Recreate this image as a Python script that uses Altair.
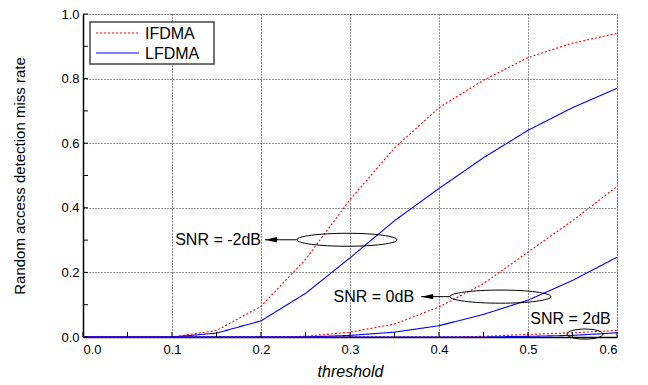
import altair as alt
import pandas as pd

# ---------------- data ----------------
thresholds = [0.0, 0.05, 0.1, 0.15, 0.2, 0.25, 0.3, 0.35, 0.4, 0.45, 0.5, 0.55, 0.6]
ifdma_m2 = [0, 0, 0, 0.02, 0.095, 0.24, 0.425, 0.585, 0.71, 0.795, 0.865, 0.91, 0.94]
lfdma_m2 = [0, 0, 0, 0.012, 0.05, 0.135, 0.245, 0.36, 0.46, 0.555, 0.64, 0.71, 0.77]
ifdma_0 = [0, 0, 0, 0, 0, 0.002, 0.015, 0.04, 0.093, 0.165, 0.263, 0.36, 0.466]
lfdma_0 = [0, 0, 0, 0, 0, 0, 0.005, 0.015, 0.035, 0.07, 0.114, 0.175, 0.247]
ifdma_2 = [0, 0, 0, 0, 0, 0, 0, 0, 0, 0.002, 0.008, 0.013, 0.02]
lfdma_2 = [0, 0, 0, 0, 0, 0, 0, 0, 0, 0, 0.002, 0.005, 0.013]

x_ticks = [0.0, 0.1, 0.2, 0.3, 0.4, 0.5, 0.6]
x_minor = [0.0, 0.05, 0.1, 0.15, 0.2, 0.25, 0.3, 0.35, 0.4, 0.45, 0.5, 0.55, 0.6]
y_ticks = [0.0, 0.2, 0.4, 0.6, 0.8, 1.0]
y_minor = [0.0, 0.1, 0.2, 0.3, 0.4, 0.5, 0.6, 0.7, 0.8, 0.9, 1.0]

schemes = ["IFDMA", "LFDMA"]
scheme_colors = ["#ff0000", "#0000ff"]

ann_labels = ["SNR = -2dB", "SNR = 0dB", "SNR = 2dB"]
ann_text_x = [0.200, 0.372, 0.593]
ann_text_y = [0.301, 0.125, 0.056]
ell_x = [0.2966, 0.469, 0.564]
ell_y = [0.301, 0.125, 0.009]
arrow_tip_x = [0.2045, 0.380]
arrow_base_x = [0.2404, 0.412]
arrow_y = [0.301, 0.125]

FONT = "Liberation Sans"
W, H = 534, 323

rows = []
for scheme, snr, vals in [
    ("IFDMA", "-2dB", ifdma_m2), ("LFDMA", "-2dB", lfdma_m2),
    ("IFDMA", "0dB", ifdma_0), ("LFDMA", "0dB", lfdma_0),
    ("IFDMA", "2dB", ifdma_2), ("LFDMA", "2dB", lfdma_2),
]:
    for t, v in zip(thresholds, vals):
        rows.append({"threshold": t, "rate": v, "scheme": scheme, "snr": snr})
df = pd.DataFrame(rows)

xscale = alt.Scale(domain=[0, 0.6], nice=False, zero=False)
yscale = alt.Scale(domain=[0, 1.0], nice=False)

lines = alt.Chart(df).mark_line(strokeWidth=1.1).encode(
    x=alt.X("threshold:Q", scale=xscale,
            axis=alt.Axis(values=x_ticks, format=".1f", title="threshold",
                          ticks=False, grid=True, gridDash=[1, 2], gridColor="#222",
                          gridOpacity=1, labelFontSize=13, labelPadding=6,
                          titleFontSize=16, titleFontStyle="italic",
                          titleFontWeight="normal", titlePadding=7,
                          labelFont=FONT, titleFont=FONT, labelColor="black",
                          titleColor="black", domainColor="black", domainWidth=1.5)),
    y=alt.Y("rate:Q", scale=yscale,
            axis=alt.Axis(values=y_ticks, format=".1f",
                          title="Random access detection miss rate",
                          ticks=False, grid=True, gridDash=[1, 2], gridColor="#222",
                          gridOpacity=1, labelFontSize=13, labelPadding=4,
                          titleFontSize=15, titleFontWeight="normal", titlePadding=33,
                          labelFont=FONT, titleFont=FONT, labelColor="black",
                          titleColor="black", domainColor="black", domainWidth=1.5)),
    color=alt.Color("scheme:N", legend=None,
                    scale=alt.Scale(domain=schemes, range=scheme_colors)),
    strokeDash=alt.StrokeDash("scheme:N", legend=None,
                              scale=alt.Scale(domain=schemes, range=[[2, 2], [1, 0]])),
    detail="snr:N",
)

xt = pd.DataFrame({"t": x_minor})
yt = pd.DataFrame({"t": y_minor})
xtick_layer = alt.Chart(xt).mark_rule(color="black", strokeWidth=1).encode(
    x=alt.X("t:Q", scale=xscale), y=alt.value(H), y2=alt.value(H - 5))
ytick_layer = alt.Chart(yt).mark_rule(color="black", strokeWidth=1).encode(
    y=alt.Y("t:Q", scale=yscale), x=alt.value(0), x2=alt.value(5))

txt = pd.DataFrame({"label": ann_labels, "x": ann_text_x, "y": ann_text_y})
text_layer = alt.Chart(txt).mark_text(align="right", baseline="middle", fontSize=16,
                                      font=FONT, color="black").encode(
    x=alt.X("x:Q", scale=xscale), y=alt.Y("y:Q", scale=yscale), text="label:N")

ell_paths = ["M -1 0 A 1 0.13 0 1 1 1 0 A 1 0.13 0 1 1 -1 0 Z",
             "M -1 0 A 1 0.13 0 1 1 1 0 A 1 0.13 0 1 1 -1 0 Z",
             "M -1 0 A 1 0.28 0 1 1 1 0 A 1 0.28 0 1 1 -1 0 Z"]
ell_sizes = [10000, 10200, 1296]
ell = pd.DataFrame({"x": ell_x, "y": ell_y, "path": ell_paths, "size": ell_sizes})
ell_layer = alt.Chart(ell).mark_point(filled=False, color="black", strokeWidth=1, opacity=1).encode(
    x=alt.X("x:Q", scale=xscale), y=alt.Y("y:Q", scale=yscale),
    shape=alt.Shape("path:N", scale=None), size=alt.Size("size:Q", scale=None))

arr = pd.DataFrame({"x": arrow_tip_x, "x2": arrow_base_x, "y": arrow_y})
arrow_line = alt.Chart(arr).mark_rule(color="black", strokeWidth=1).encode(
    x=alt.X("x:Q", scale=xscale), x2="x2:Q", y=alt.Y("y:Q", scale=yscale))
arrow_head = alt.Chart(arr).mark_point(filled=True, color="black", opacity=1,
                                       shape="M 0 0 L 2 -0.45 L 2 0.45 Z", size=144).encode(
    x=alt.X("x:Q", scale=xscale), y=alt.Y("y:Q", scale=yscale))

# ---- manual legend (box, sample lines, labels) ----
legend_box = alt.Chart(pd.DataFrame({"k": [0]})).mark_rect(
    fill="white", stroke="#444", strokeWidth=1.5).encode(
    x=alt.value(7), x2=alt.value(131), y=alt.value(8), y2=alt.value(50))
legend_layers = [legend_box]
for i, (name, col) in enumerate(zip(schemes, scheme_colors)):
    yy = 19 + 20 * i
    dash = [2, 2] if i == 0 else [1, 0]
    d = pd.DataFrame({"label": [name]})
    legend_layers.append(alt.Chart(d).mark_rule(color=col, strokeWidth=1.2, strokeDash=dash).encode(
        x=alt.value(13), x2=alt.value(56), y=alt.value(yy)))
    legend_layers.append(alt.Chart(d).mark_text(align="left", baseline="middle", fontSize=16,
                                                font=FONT, color="black").encode(
        x=alt.value(62), y=alt.value(yy + 0.5), text="label:N"))

chart = alt.layer(lines, xtick_layer, ytick_layer, ell_layer, arrow_line, arrow_head,
                  text_layer, *legend_layers).properties(
    width=W, height=H, autosize="none",
    padding={"left": 75, "top": 6, "right": 23, "bottom": 44},
).configure_view(stroke="black", strokeWidth=1.5).configure(background="white")

chart.save("out.html", embed_options={"renderer": "svg", "actions": False})
